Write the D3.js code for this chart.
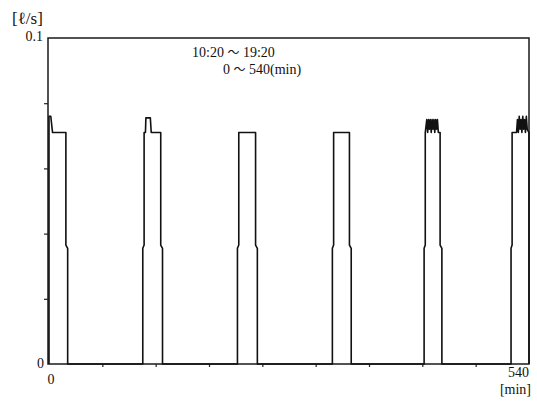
<!DOCTYPE html>
<html>
<head>
<meta charset="utf-8">
<script src="https://cdn.jsdelivr.net/npm/d3@7"></script>
<style>
  body { margin: 0; background: #fff; }
  svg text { font-family: "Liberation Serif", "DejaVu Serif", serif; fill: #111; }
</style>
</head>
<body>
<div id="chart"></div>
<script>
// flow record, minutes from 10:20 (step trace)
var minutes = [
  0, 0, 2, 4, 19, 19, 21, 21,
  105.5, 105.5, 107, 107, 108.5, 109, 114, 115, 125.7, 125.7, 127.7, 127.7,
  212, 212, 213.5, 213.5, 232.4, 232.4, 234.4, 234.4,
  318.8, 318.8, 320.2, 320.2, 338, 338, 340, 340,
  422, 422, 423.3, 423.3, 425, 426, 427, 428, 429, 430, 431, 432, 433, 434, 435, 436, 437, 438, 440, 440, 442, 442,
  519.8, 519.8, 521, 521, 526, 527, 528, 529, 530, 531, 532, 533, 534, 535, 536, 537, 538, 540, 540
];
var flow = [
  0, 0.076, 0.076, 0.071, 0.071, 0.0365, 0.0355, 0,
  0, 0.0355, 0.0365, 0.071, 0.071, 0.0755, 0.0755, 0.071, 0.071, 0.0365, 0.0355, 0,
  0, 0.0355, 0.0365, 0.071, 0.071, 0.0365, 0.0355, 0,
  0, 0.0355, 0.0365, 0.071, 0.071, 0.0365, 0.0355, 0,
  0, 0.0355, 0.0365, 0.071, 0.075, 0.071, 0.075, 0.072, 0.075, 0.071, 0.075, 0.072, 0.075, 0.071, 0.075, 0.072, 0.075, 0.071, 0.071, 0.0365, 0.0355, 0,
  0, 0.0355, 0.0365, 0.071, 0.071, 0.075, 0.071, 0.076, 0.072, 0.075, 0.071, 0.076, 0.072, 0.075, 0.071, 0.076, 0.072, 0.071, 0
];

var xTicks = [60, 120, 180, 240, 300, 360, 420, 480];
var yTicks = [0.02, 0.04, 0.06, 0.08];
var xLabels = ["0", "540"];
var yLabels = ["0", "0.1"];
var yUnit = "[ℓ/s]";
var xUnit = "[min]";
var note = [["10:20 ", "〜", " 19:20"], ["0 ", "〜", " 540(min)"]];

var W = 537, H = 403;
var margin = { top: 38, right: 8, bottom: 39, left: 48 };
var width = W - margin.left - margin.right;
var height = H - margin.top - margin.bottom;

var svg = d3.select("#chart").append("svg")
    .attr("width", W)
    .attr("height", H);

var g = svg.append("g")
    .attr("transform", "translate(" + margin.left + "," + margin.top + ")");

var x = d3.scaleLinear().domain([0, 540]).range([1, width]);
var y = d3.scaleLinear().domain([0, 0.1]).range([height, 0]);

// frame
g.append("rect")
    .attr("x", 0).attr("y", 0)
    .attr("width", width).attr("height", height)
    .style("fill", "none")
    .style("stroke", "#1a1a1a")
    .style("stroke-width", 1.5);

// minor ticks, no labels
var yAxis = g.append("g")
    .call(d3.axisLeft(y).tickValues(yTicks).tickSize(4).tickFormat(""));
var xAxis = g.append("g")
    .attr("transform", "translate(0," + height + ")")
    .call(d3.axisBottom(x).tickValues(xTicks).tickSize(3).tickFormat(""));
[yAxis, xAxis].forEach(function(a) {
    a.select(".domain").remove();
    a.selectAll("line").style("stroke", "#222").style("stroke-width", 1.2);
});

// trace
var pts = minutes.map(function(m, i) { return [m, flow[i]]; });
var line = d3.line()
    .x(function(d) { return x(d[0]); })
    .y(function(d) { return y(d[1]); });

g.append("path")
    .datum(pts)
    .attr("d", line)
    .style("fill", "none")
    .style("stroke", "#111")
    .style("stroke-width", 1.6)
    .style("stroke-linejoin", "round");

// labels
g.append("text").attr("x", -4).attr("y", y(0) + 4)
    .attr("text-anchor", "end").style("font-size", "14px").text(yLabels[0]);
g.append("text").attr("x", -5).attr("y", y(0.1) + 3)
    .attr("text-anchor", "end").style("font-size", "14px").text(yLabels[1]);
svg.append("text").attr("x", 12).attr("y", 24)
    .style("font-size", "17px").text(yUnit);

g.append("text").attr("x", x(0) + 2).attr("y", height + 20)
    .attr("text-anchor", "middle").style("font-size", "14px").text(xLabels[0]);
g.append("text").attr("x", width).attr("y", height + 13)
    .attr("text-anchor", "end").style("font-size", "14px").text(xLabels[1]);
g.append("text").attr("x", width + 2).attr("y", height + 30)
    .attr("text-anchor", "end").style("font-size", "14px").text(xUnit);

var notePos = [[192, 57], [223, 74]];
note.forEach(function(parts, i) {
    var t = g.append("text")
        .attr("x", notePos[i][0] - margin.left)
        .attr("y", notePos[i][1] - margin.top)
        .style("font-size", "14px");
    parts.forEach(function(p, j) {
        var s = t.append("tspan").text(p);
        if (j === 1) s.style("font-family", "'Noto Sans CJK JP', sans-serif").style("font-size", "12px");
    });
});
</script>
</body>
</html>
